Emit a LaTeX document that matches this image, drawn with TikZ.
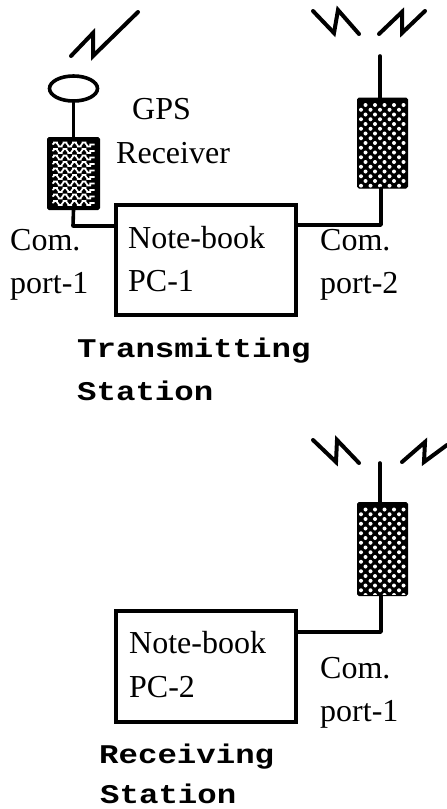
\documentclass[tikz,border=0pt]{standalone}
\usepackage{fontspec}
\setmainfont{Liberation Serif}
\setmonofont[FakeStretch=1.2]{Liberation Mono}
\usepackage{tikz}
\usetikzlibrary{positioning,calc,shapes.geometric,decorations.pathmorphing}

\begin{document}
\begin{tikzpicture}[x=1pt,y=-1pt,
  wire/.style={line width=3.6pt,line cap=round,line join=round},
  bolt/.style={line width=4pt,line cap=round,line join=miter},
  pc/.style={draw,line width=3.6pt,minimum width=180pt,minimum height=110pt,inner sep=0pt},
  lbl/.style={anchor=base west,inner sep=0pt,font=\fontsize{32}{32}\selectfont},
  sta/.style={anchor=base west,inner sep=0pt,font=\fontsize{27}{27}\selectfont\ttfamily\bfseries},
  dotbox/.style={fill=black,draw=black,line width=1pt,rounded corners=1.5pt,minimum width=50pt,minimum height=90pt,inner sep=0pt,
    path picture={
      \foreach \r in {0,...,18} \foreach \c in {0,...,4}
        \fill[white] ($(path picture bounding box.north west)+({8-mod(\r,2)*4.5+\c*9.5},{7+\r*4.75})$) circle (2pt);
    }},
  wavebox/.style={fill=black,draw=black,line width=1pt,rounded corners=1.5pt,minimum width=52pt,minimum height=72pt,inner sep=0pt,
    path picture={
      \foreach \r in {0,...,9}
        \draw[white,line width=1.7pt,decorate,decoration={snake,segment length=9.5pt,amplitude=2pt}]
          ($(path picture bounding box.north west)+(5,{7+\r*6.5})$) -- ++(42,0);
    }}]
  \useasboundingbox (0,0) rectangle (447,809);

  % transmitting station
  \node[pc] (pcone) at (206,260) {};
  \node[wavebox] (gpsrx) at (73.5,173.5) {};
  \node[dotbox] (radioone) at (382.5,143) {};
  \node[draw,ellipse,line width=3.6pt,minimum width=48pt,minimum height=25pt,inner sep=0pt] (gpsant) at (73.5,88.5) {};
  \coordinate (tipone) at (380,56);
  \coordinate (jonea) at (73,226);
  \coordinate (joneb) at (381,225);
  \draw[wire] (gpsant.south) -- (gpsrx.north);
  \draw[wire] (gpsrx.south) -- (jonea) -- (jonea -| pcone.west);
  \draw[wire] (joneb -| pcone.east) -- (joneb) -- (joneb |- radioone.south);
  \draw[wire] (tipone) -- (tipone |- radioone.north);
  \draw[bolt] (71,56) -- (93,33) -- (93,56) -- (138,12);
  \draw[bolt] (313,11) -- (334,33) -- (338,10) -- (359,34);
  \draw[bolt] (379,34) -- (402,12) -- (402,33) -- (425,11);
  \node[lbl] (gpsa) at (132,119) {GPS};
  \node[lbl] (gpsb) at (116,163) {Receiver};
  \node[lbl] (comaa) at (10,250) {Com.};
  \node[lbl] (comab) at (10,293) {port-1};
  \node[lbl] (noteone) at (128,248) {Note-book};
  \node[lbl] (pcnameone) at (128,291) {PC-1};
  \node[lbl] (combb) at (320,250) {Com.};
  \node[lbl] (combc) at (320,293) {port-2};
  \node[sta] (txa) at (77,357) {Transmitting};
  \node[sta] (txb) at (77,400) {Station};

  % receiving station
  \node[pc,minimum height=111pt] (pctwo) at (206,666.5) {};
  \node[dotbox,minimum height=93pt] (radiotwo) at (382.5,549) {};
  \coordinate (tiptwo) at (380,463);
  \coordinate (jtwo) at (381,632);
  \draw[wire] (jtwo -| pctwo.east) -- (jtwo) -- (jtwo |- radiotwo.south);
  \draw[wire] (tiptwo) -- (tiptwo |- radiotwo.north);
  \draw[bolt] (313,440) -- (336,462) -- (337,440) -- (359,463);
  \draw[bolt] (402,462) -- (425,442) -- (424,462) -- (447,445);
  \node[lbl] (notetwo) at (129,653) {Note-book};
  \node[lbl] (pcnametwo) at (129,697) {PC-2};
  \node[lbl] (comca) at (320,678) {Com.};
  \node[lbl] (comcb) at (320,721) {port-1};
  \node[sta] (rxa) at (99,763) {Receiving};
  \node[sta] (rxb) at (100,803) {Station};
\end{tikzpicture}
\end{document}
